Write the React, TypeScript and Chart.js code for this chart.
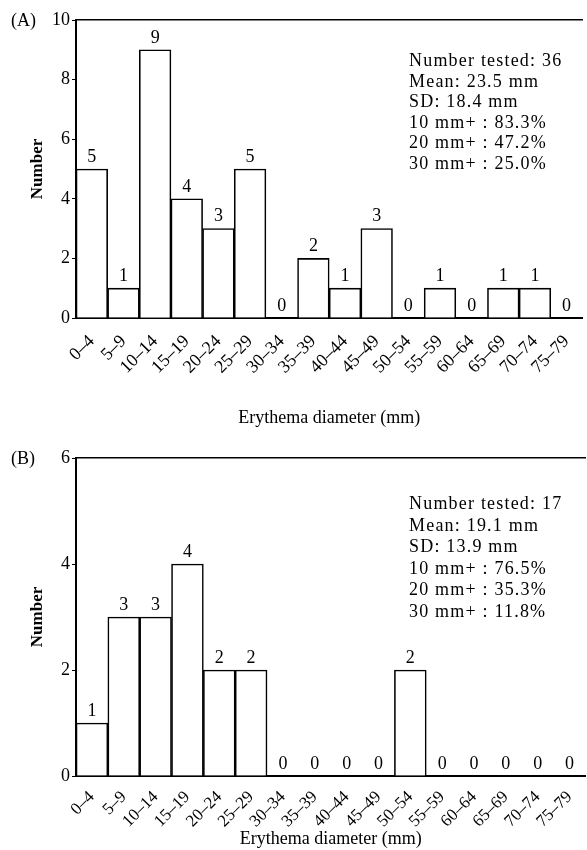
import React, { useEffect, useRef } from 'react';
import { Chart, registerables } from 'chart.js';

Chart.register(...registerables);

// ---- data ----
const categories = ['0–4', '5–9', '10–14', '15–19', '20–24', '25–29', '30–34', '35–39', '40–44', '45–49', '50–54', '55–59', '60–64', '65–69', '70–74', '75–79'];
const countsA = [5, 1, 9, 4, 3, 5, 0, 2, 1, 3, 0, 1, 0, 1, 1, 0];
const countsB = [1, 3, 3, 4, 2, 2, 0, 0, 0, 0, 2, 0, 0, 0, 0, 0];
const yTicksA = [0, 2, 4, 6, 8, 10];
const yTicksB = [0, 2, 4, 6];
const statsA = ['Number tested: 36', 'Mean: 23.5 mm', 'SD: 18.4 mm', '10 mm+ : 83.3%', '20 mm+ : 47.2%', '30 mm+ : 25.0%'];
const statsB = ['Number tested: 17', 'Mean: 19.1 mm', 'SD: 13.9 mm', '10 mm+ : 76.5%', '20 mm+ : 35.3%', '30 mm+ : 11.8%'];
const yTitle = 'Number';
const xTitle = 'Erythema diameter (mm)';

const FAMILY = '"Liberation Serif", "Times New Roman", serif';

const valueLabels = {
  id: 'valueLabels',
  afterDatasetsDraw(chart: any) {
    const ctx = chart.ctx;
    const meta = chart.getDatasetMeta(0);
    const data = chart.data.datasets[0].data;
    ctx.save();
    ctx.font = `18px ${FAMILY}`;
    ctx.fillStyle = '#000';
    ctx.textAlign = 'center';
    ctx.textBaseline = 'bottom';
    meta.data.forEach((el: any, i: number) => {
      ctx.fillText(String(data[i]), el.x, el.y - 3);
    });
    ctx.restore();
  },
};

type PanelProps = {
  counts: number[];
  yTicks: number[];
  height: number;
  padTop: number;
  xAxisHeight: number;
  titlePadBottom: number;
  tickPad: number;
  tickSize: number;
};

function Panel({ counts, yTicks, height, padTop, xAxisHeight, titlePadBottom, tickPad, tickSize }: PanelProps) {
  const ref = useRef<HTMLCanvasElement | null>(null);
  useEffect(() => {
    if (!ref.current) return;
    const yMax = yTicks[yTicks.length - 1];
    const chart = new Chart(ref.current, {
      type: 'bar',
      data: {
        labels: categories,
        datasets: [
          {
            data: counts,
            backgroundColor: '#fff',
            borderColor: '#000',
            borderWidth: 1.6,
            borderSkipped: 'start',
            barPercentage: 1,
            categoryPercentage: 1,
          },
        ],
      },
      options: {
        responsive: false,
        animation: false,
        events: [],
        layout: { padding: { top: padTop, left: 0, right: 0, bottom: 0 } },
        plugins: { legend: { display: false }, tooltip: { enabled: false }, title: { display: false } },
        scales: {
          x: {
            type: 'category',
            position: 'bottom',
            afterFit: (s: any) => {
              s.height = xAxisHeight;
            },
            ticks: {
              color: '#000',
              font: { family: FAMILY, size: tickSize },
              maxRotation: 45,
              minRotation: 45,
              autoSkip: false,
              padding: tickPad,
            },
            grid: { display: false },
            border: { display: true, color: '#000', width: 2 },
            title: {
              display: true,
              text: xTitle,
              color: '#000',
              font: { family: FAMILY, size: 18 },
              padding: { top: 0, bottom: titlePadBottom },
            },
          },
          xTop: {
            type: 'category',
            position: 'top',
            afterFit: (s: any) => {
              s.height = 0;
            },
            ticks: { display: false },
            grid: { display: false },
            border: { display: true, color: '#000', width: 1.6 },
          },
          y: {
            min: 0,
            max: yMax,
            afterFit: (s: any) => {
              s.width = 76;
            },
            afterBuildTicks: (s: any) => {
              s.ticks = yTicks.map((v) => ({ value: v }));
            },
            ticks: {
              color: '#000',
              font: { family: FAMILY, size: 18 },
              padding: 2,
            },
            grid: { drawOnChartArea: false, drawTicks: true, tickLength: 4, color: '#000', lineWidth: 1 },
            border: { display: true, color: '#000', width: 2 },
            title: {
              display: true,
              text: yTitle,
              color: '#000',
              font: { family: FAMILY, size: 17, weight: 'bold' },
              padding: { top: 27, bottom: 0 },
            },
          },
        },
      },
      plugins: [valueLabels],
    } as any);
    return () => chart.destroy();
  }, []);
  return <canvas ref={ref} width={587} height={height} style={{ display: 'block' }} />;
}

const textStyle: React.CSSProperties = {
  position: 'absolute',
  fontFamily: FAMILY,
  fontSize: 18,
  color: '#000',
  whiteSpace: 'nowrap',
};

export default function App() {
  return (
    <div style={{ position: 'absolute', left: 0, top: 0, width: 587, height: 850, background: '#fff', overflow: 'hidden' }}>
      <div style={{ position: 'absolute', left: 0, top: 0 }}>
        <Panel counts={countsA} yTicks={yTicksA} height={430} padTop={20} xAxisHeight={112} titlePadBottom={1} tickPad={5} tickSize={18} />
      </div>
      <div style={{ position: 'absolute', left: 0, top: 430 }}>
        <Panel counts={countsB} yTicks={yTicksB} height={420} padTop={28} xAxisHeight={74} titlePadBottom={0} tickPad={3} tickSize={17} />
      </div>
      <div style={{ ...textStyle, left: 11, top: 9, lineHeight: '22px' }}>(A)</div>
      <div style={{ ...textStyle, left: 11, top: 447, lineHeight: '22px' }}>(B)</div>
      <div style={{ ...textStyle, left: 409, top: 50, lineHeight: '20.6px', letterSpacing: '1.2px' }}>
        {statsA.map((s) => (
          <div key={s}>{s}</div>
        ))}
      </div>
      <div style={{ ...textStyle, left: 409, top: 493, lineHeight: '21.6px', letterSpacing: '1.2px' }}>
        {statsB.map((s) => (
          <div key={s}>{s}</div>
        ))}
      </div>
    </div>
  );
}
